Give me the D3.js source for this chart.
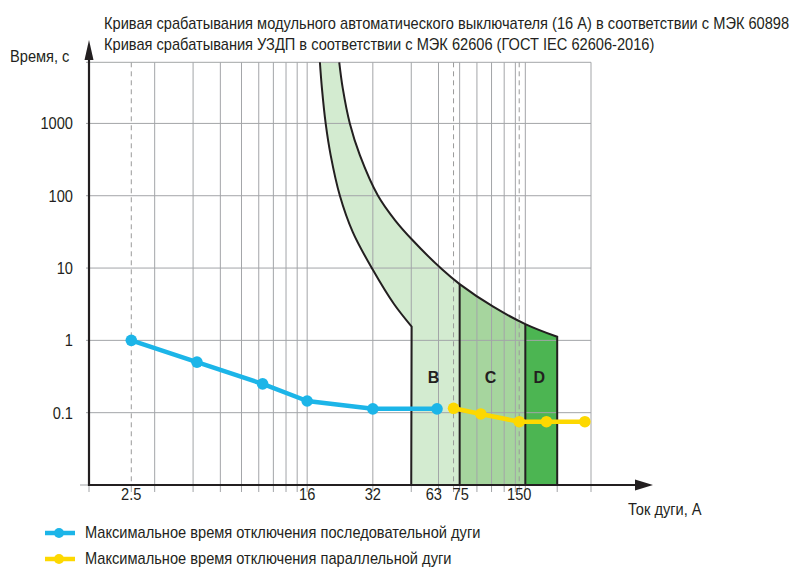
<!DOCTYPE html>
<html><head><meta charset="utf-8">
<script src="https://cdn.jsdelivr.net/npm/d3@7"></script>
<style>
body{margin:0;background:#fff;}
text{font-family:'Liberation Sans',Arial,sans-serif;fill:#231f20;}
</style></head>
<body><svg id="c" width="794" height="567"></svg>
<script>
// ---- data ----
const titleLines = [
  "Кривая срабатывания модульного автоматического выключателя (16 А) в соответствии с МЭК 60898",
  "Кривая срабатывания УЗДП в соответствии с МЭК 62606 (ГОСТ IEC 62606-2016)"
];
const yAxisTitle = "Время, с";
const xAxisTitle = "Ток дуги, А";
const xGrid = [1.6,3.2,4.8,6.4,8,9.6,11.2,12.8,14.4,16,32,48,64,80,96,112,128,144,160,320];
const xDashed = [2.5,75,150];
const xTickLabels = [2.5,16,32,63,75,150];
const yTicks = [0.1,1,10,100,1000];
const yTickLabels = ["0.1","1","10","100","1000"];
// time-current band (B/C/D)
const lowCurveI = [18.3,18.7,19.45,20.5,22.6,25.9,31.9,40.0,48.2];
const lowCurveT = [7000,3050,1000,365,100,31.4,9.6,3.18,1.55];
const highCurveI = [22.45,23.3,25.1,27.9,33.8,40.4,48.6,66.4,80,114,160,224];
const highCurveT = [7000,3050,1000,365,100,46.1,24.4,9.6,6.0,2.92,1.68,1.12];
const bandBounds = [48,80,160,224];
const bandNames = ["B","C","D"];
// series
const serialI = [2.5,5,10,16,32,63];
const serialT = [1,0.5,0.25,0.145,0.113,0.113];
const parallelI = [75,100,150,200,300];
const parallelT = [0.115,0.096,0.075,0.075,0.075];
const legendLabels = [
  "Максимальное время отключения последовательной дуги",
  "Максимальное время отключения параллельной дуги"
];
const seriesColors = ["#1cb5e8","#fdd800"];
const bandColors = ["#d3ebd0","#a6d59e","#4cb552"];

// ---- scales ----
const svg = d3.select("#c");
const x = d3.scaleLog().domain([1.6,320]).range([89,591]);
const y = d3.scaleLog().domain([0.01,7000]).range([485,62.3]);
const tMin = 0.01, tMax = 7000;
const NARROW = 0.86;
function narrow(sel){
  sel.each(function(){
    const w = this.getComputedTextLength();
    d3.select(this).attr("textLength", w*NARROW).attr("lengthAdjust","spacingAndGlyphs");
  });
  return sel;
}

const lowPts = lowCurveI.map((v,i)=>[v,lowCurveT[i]]);
const highPts = highCurveI.map((v,i)=>[v,highCurveT[i]]);
const line = d3.line().x(d=>x(d[0])).y(d=>y(d[1])).curve(d3.curveCatmullRom.alpha(0.5));
const L = (i,t)=>`L${x(i)},${y(t)}`;

const underHigh = line(highPts) + L(bandBounds[3],tMin) + L(1.6,tMin) + L(1.6,tMax) + "Z";
const underLow = line(lowPts) + L(bandBounds[0],tMin) + L(1.6,tMin) + L(1.6,tMax) + "Z";

const defs = svg.append("defs");
[[bandBounds[1],bandBounds[2]],[bandBounds[2],bandBounds[3]+20]].forEach((b,i)=>{
  defs.append("clipPath").attr("id","clip"+i).append("rect")
    .attr("x",x(b[0])).attr("width",x(b[1])-x(b[0])).attr("y",0).attr("height",567);
});
svg.append("path").attr("d",underHigh).attr("fill",bandColors[0]);
svg.append("path").attr("d",underHigh).attr("fill",bandColors[1]).attr("clip-path","url(#clip0)");
svg.append("path").attr("d",underHigh).attr("fill",bandColors[2]).attr("clip-path","url(#clip1)");
svg.append("path").attr("d",underLow).attr("fill","#fff");

// ---- grid ----
const gridColor = "#a3a5a8";
const g = svg.append("g");
g.selectAll(".vx").data(xGrid).join("line")
  .attr("x1",d=>x(d)).attr("x2",d=>x(d)).attr("y1",y(tMax)).attr("y2",y(tMin)+7)
  .attr("stroke",gridColor).attr("stroke-width",1);
g.selectAll(".vd").data(xDashed).join("line")
  .attr("x1",d=>x(d)).attr("x2",d=>x(d)).attr("y1",y(tMax)).attr("y2",y(tMin))
  .attr("stroke","#9a9a9a").attr("stroke-width",1).attr("stroke-dasharray","5,4");
g.selectAll(".vt").data(xDashed.concat([bandBounds[3]])).join("line")
  .attr("x1",d=>x(d)).attr("x2",d=>x(d)).attr("y1",y(tMin)).attr("y2",y(tMin)+7)
  .attr("stroke",gridColor).attr("stroke-width",1);
g.selectAll(".hy").data(yTicks.concat([tMax])).join("line")
  .attr("x1",86).attr("x2",x(320)).attr("y1",d=>y(d)).attr("y2",d=>y(d))
  .attr("stroke",gridColor).attr("stroke-width",1);
g.append("line").attr("x1",80).attr("x2",89).attr("y1",y(tMin)).attr("y2",y(tMin))
  .attr("stroke",gridColor).attr("stroke-width",1);

// ---- band outlines ----
const ink = "#231f20";
svg.append("path").attr("d", line(lowPts) + L(bandBounds[0],tMin))
  .attr("fill","none").attr("stroke",ink).attr("stroke-width",2);
svg.append("path").attr("d", line(highPts) + L(bandBounds[3],tMin))
  .attr("fill","none").attr("stroke",ink).attr("stroke-width",2);
[bandBounds[1],bandBounds[2]].forEach(b=>{
  const t = highCurveT[highCurveI.indexOf(b)];
  svg.append("line").attr("x1",x(b)).attr("x2",x(b)).attr("y1",y(t)).attr("y2",y(tMin))
    .attr("stroke",ink).attr("stroke-width",2);
});
bandNames.forEach((n,i)=>{
  const cx = Math.sqrt(bandBounds[i]*bandBounds[i+1]);
  svg.append("text").attr("x",x(cx)-2).attr("y",383).attr("text-anchor","middle")
    .style("font-weight","bold").style("font-size","16px").text(n);
});

// ---- axes ----
svg.append("line").attr("x1",89).attr("x2",89).attr("y1",y(tMin)+1).attr("y2",56).attr("stroke",ink).attr("stroke-width",2.2);
svg.append("path").attr("d","M89,40L84.5,60L93.5,60Z").attr("fill",ink);
svg.append("line").attr("x1",88).attr("x2",637).attr("y1",y(tMin)).attr("y2",y(tMin)).attr("stroke",ink).attr("stroke-width",2.2);
svg.append("path").attr("d",`M653,${y(tMin)}L635,${y(tMin)-5.5}L635,${y(tMin)+5.5}Z`).attr("fill",ink);

narrow(svg.selectAll(".yl").data(yTicks).join("text")
  .attr("x",73).attr("y",d=>y(d)+6).attr("text-anchor","end").style("font-size","17px")
  .text((d,i)=>yTickLabels[i]));
// x labels: 63 and 75 sit close together, so push them apart slightly
const xLabelAnchor = {63:["end",5],75:["start",-1]};
narrow(svg.selectAll(".xl").data(xTickLabels).join("text")
  .attr("x",d=>x(d)+(xLabelAnchor[d]?xLabelAnchor[d][1]:0)).attr("y",500)
  .attr("text-anchor",d=>xLabelAnchor[d]?xLabelAnchor[d][0]:"middle").style("font-size","17px")
  .text(d=>d));
narrow(svg.append("text").attr("x",10).attr("y",62).style("font-size","17px").text(yAxisTitle));
narrow(svg.append("text").attr("x",628).attr("y",515).style("font-size","17px").text(xAxisTitle));
titleLines.forEach((t,i)=>{
  narrow(svg.append("text").attr("x",104).attr("y",29+i*21).style("font-size","17px").text(t));
});

// ---- series ----
[[serialI,serialT],[parallelI,parallelT]].forEach((s,k)=>{
  const pts = s[0].map((v,i)=>[v,s[1][i]]);
  svg.append("path").attr("d",d3.line().x(d=>x(d[0])).y(d=>y(d[1]))(pts)).attr("fill","none")
    .attr("stroke",seriesColors[k]).attr("stroke-width",4.5).attr("stroke-linejoin","round");
  svg.selectAll(".p"+k).data(pts).join("circle")
    .attr("cx",d=>x(d[0])).attr("cy",d=>y(d[1])).attr("r",5.8).attr("fill",seriesColors[k]);
});

// ---- legend ----
legendLabels.forEach((t,i)=>{
  const ly = 533 + i*26;
  svg.append("line").attr("x1",45).attr("x2",75).attr("y1",ly).attr("y2",ly)
    .attr("stroke",seriesColors[i]).attr("stroke-width",4.5);
  svg.append("circle").attr("cx",59).attr("cy",ly).attr("r",5).attr("fill",seriesColors[i]);
  narrow(svg.append("text").attr("x",85).attr("y",ly+5).style("font-size","17px").text(t));
});
</script></body></html>
